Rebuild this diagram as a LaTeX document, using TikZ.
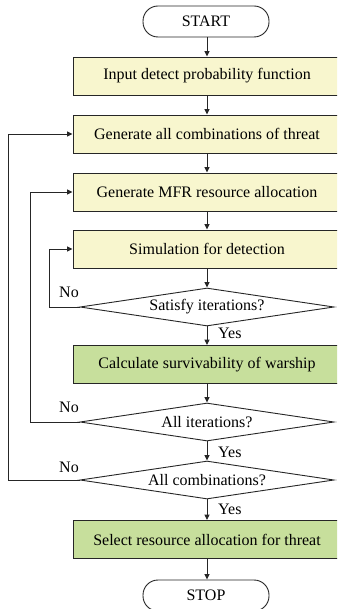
\documentclass[tikz,border=0pt]{standalone}
\usepackage{fontspec}
\setmainfont{Liberation Serif}
\usetikzlibrary{shapes.geometric,arrows.meta}
\definecolor{boxyellow}{RGB}{248,246,206}
\definecolor{boxgreen}{RGB}{199,223,156}
\tikzset{
  base/.style={draw=black!85, line width=0.9pt, inner sep=0pt, font=\fontsize{16}{18}\selectfont},
  term/.style={base, rectangle, rounded corners=15pt, minimum width=126pt, minimum height=31pt, fill=white},
  ybox/.style={base, rectangle, minimum width=268pt, minimum height=38pt, fill=boxyellow},
  gbox/.style={base, rectangle, minimum width=268pt, minimum height=38pt, fill=boxgreen},
  dec/.style={base, diamond, shape aspect=6.68, minimum width=254pt, minimum height=38pt, fill=white},
  lbl/.style={font=\fontsize{16}{18}\selectfont, inner sep=0pt},
  conn/.style={line width=0.9pt, draw=black!85, -{Triangle[length=5.5pt,width=5pt]}}
}
\begin{document}
\begin{tikzpicture}[x=1pt,y=-1pt]
\clip (0,0) rectangle (337,609);
\useasboundingbox (0,0) rectangle (337,609);
\fill[white] (0,0) rectangle (337,609);
\node[term] (start) at (206,21.5) {START};
\node[ybox] (b1) at (207,76) {Input detect probability function};
\node[ybox] (b2) at (207,134) {Generate all combinations of threat};
\node[ybox] (b3) at (207,192) {Generate MFR resource allocation};
\node[ybox] (b4) at (207,249) {Simulation for detection};
\node[dec] (d1) at (207,307) {Satisfy iterations?};
\node[gbox] (b5) at (207,364.5) {Calculate survivability of warship};
\node[dec] (d2) at (207,422) {All iterations?};
\node[dec] (d3) at (207,480) {All combinations?};
\node[gbox] (b6) at (207,539.5) {Select resource allocation for threat};
\node[term] (stop) at (206,595.5) {STOP};

\draw[conn] (start.south -| b1.north) -- (b1.north);
\draw[conn] (b1) -- (b2);
\draw[conn] (b2) -- (b3);
\draw[conn] (b3) -- (b4);
\draw[conn] (b4) -- (d1);
\draw[conn] (d1) -- (b5);
\draw[conn] (b5) -- (d2);
\draw[conn] (d2) -- (d3);
\draw[conn] (d3) -- (b6);
\draw[conn] (b6.south) -- (b6.south |- stop.north);

\coordinate (c1) at (49,307);
\coordinate (c2) at (30,422);
\coordinate (c3) at (8,480);
\draw[conn] (d1.west) -- (c1) |- (b4.west);
\draw[conn] (d2.west) -- (c2) |- (b3.west);
\draw[conn] (d3.west) -- (c3) |- (b2.west);

\node[lbl] (n1) at (69,292) {No};
\node[lbl] (n2) at (69,407) {No};
\node[lbl] (n3) at (69,467) {No};
\node[lbl, anchor=west] (y1) at (218,333) {Yes};
\node[lbl, anchor=west] (y2) at (218,452) {Yes};
\node[lbl, anchor=west] (y3) at (218,509) {Yes};
\end{tikzpicture}
\end{document}
